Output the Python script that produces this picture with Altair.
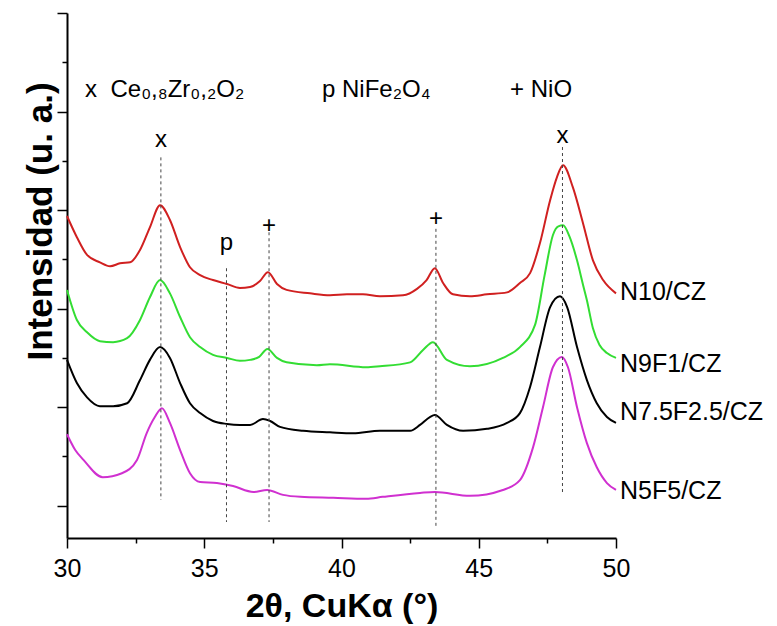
import altair as alt
import pandas as pd

# ---------------- data ----------------
angle_n10 = [30.0, 30.36, 30.73, 31.2, 31.57, 31.93, 32.3, 32.66, 33.02, 33.39, 33.75, 34.12, 34.48,
             34.85, 35.32, 35.83, 36.3, 36.67, 37.03, 37.32, 37.65, 38.0, 38.85, 39.58, 40.2, 40.78,
             41.4, 42.24, 42.75, 43.1, 43.4, 43.7, 44.06, 44.68, 45.3, 46.03, 46.5, 46.87, 47.23,
             47.6, 47.85, 48.07, 48.43, 48.8, 49.16, 49.53, 50.0]
int_n10 = [5.88, 5.45, 5.09, 4.94, 4.86, 4.92, 4.94, 5.19, 5.65, 6.10, 5.80, 5.25, 4.84,
           4.68, 4.58, 4.50, 4.42, 4.44, 4.56, 4.74, 4.50, 4.38, 4.31, 4.27, 4.29, 4.29,
           4.25, 4.27, 4.40, 4.58, 4.82, 4.52, 4.29, 4.25, 4.29, 4.33, 4.52, 4.72, 5.33,
           6.20, 6.67, 6.91, 6.46, 5.73, 4.98, 4.58, 4.31]

angle_n9f1 = [30.0, 30.36, 30.73, 31.2, 31.68, 32.19, 32.66, 33.02, 33.39, 33.75, 34.12, 34.48,
              34.85, 35.32, 35.83, 36.3, 36.67, 37.0, 37.3, 37.65, 38.0, 39.1, 39.58, 40.9, 41.4,
              42.5, 42.97, 43.33, 43.84, 44.68, 45.88, 46.5, 47.05, 47.4, 47.7, 47.9, 48.07, 48.3,
              48.58, 48.8, 48.94, 49.16, 49.4, 49.67, 50.0]
int_n9f1 = [4.38, 3.77, 3.52, 3.34, 3.32, 3.40, 3.77, 4.23, 4.58, 4.31, 3.83, 3.42,
            3.22, 3.06, 3.00, 2.94, 2.96, 3.02, 3.18, 3.00, 2.91, 2.85, 2.87, 2.81, 2.83,
            2.91, 3.16, 3.32, 2.96, 2.83, 3.00, 3.22, 3.67, 4.68, 5.49, 5.67, 5.69, 5.47,
            4.98, 4.48, 4.17, 3.60, 3.26, 3.10, 3.00]

angle_n75 = [30.0, 30.36, 30.73, 31.2, 31.68, 32.19, 32.66, 33.02, 33.39, 33.75, 34.12, 34.48,
             34.85, 35.32, 35.83, 36.3, 36.67, 37.14, 37.4, 37.76, 38.6, 39.58, 40.42, 41.4,
             42.5, 42.86, 43.22, 43.4, 43.84, 44.43, 45.3, 46.03, 46.5, 46.87, 47.23, 47.6,
             47.96, 48.22, 48.58, 48.94, 49.3, 49.67, 50.0]
int_n75 = [2.96, 2.49, 2.20, 2.02, 2.02, 2.08, 2.55, 2.96, 3.22, 3.00, 2.49, 2.08,
           1.88, 1.72, 1.66, 1.64, 1.64, 1.76, 1.72, 1.60, 1.52, 1.49, 1.47, 1.52,
           1.52, 1.64, 1.80, 1.84, 1.64, 1.52, 1.56, 1.68, 1.88, 2.41, 3.22, 4.03,
           4.25, 4.03, 3.22, 2.55, 2.08, 1.80, 1.68]

angle_n5f5 = [30.0, 30.3, 30.6, 31.3, 32.0, 32.55, 32.9, 33.2, 33.46, 33.75, 34.12, 34.48, 34.85,
              35.46, 36.05, 36.79, 37.29, 37.87, 38.5, 39.7, 40.9, 41.5, 42.86, 43.4, 44.68,
              45.88, 46.5, 46.98, 47.34, 47.7, 48.03, 48.25, 48.58, 48.94, 49.3, 49.67, 50.0]
int_n5f5 = [1.45, 1.13, 0.93, 0.58, 0.66, 0.93, 1.47, 1.80, 1.98, 1.68, 1.13, 0.66, 0.48,
            0.46, 0.40, 0.28, 0.32, 0.22, 0.18, 0.16, 0.14, 0.18, 0.26, 0.28, 0.20,
            0.32, 0.52, 1.19, 2.00, 2.81, 3.02, 2.81, 2.00, 1.27, 0.78, 0.46, 0.32]

series_names = ["N10/CZ", "N9F1/CZ", "N7.5F2.5/CZ", "N5F5/CZ"]
series_colors = ["#d02020", "#33dd33", "#000000", "#d030d0"]
series_label_y = [4.17, 2.71, 1.74, 0.14]

peak_angles = [33.42, 35.81, 37.36, 43.44, 48.05]
peak_symbols = ["x", "p", "+", "+", "x"]
peak_symbol_y = [7.28, 5.19, 5.53, 5.67, 7.37]
peak_line_top = [7.07, 4.82, 5.55, 5.62, 7.28]
peak_line_bottom = [0.12, -0.33, -0.33, -0.43, 0.26]

phase_texts = ["x\u00a0\u00a0Ce\u2080,\u2088Zr\u2080,\u2082O\u2082", "p NiFe\u2082O\u2084", "+ NiO"]
phase_x = [30.66, 39.29, 46.14]
phase_y = [8.29, 8.29, 8.29]

x_tick_values = [30, 32.5, 35, 37.5, 40, 42.5, 45, 47.5, 50]
y_tick_values = [0, 1, 2, 3, 4, 5, 6, 7, 8, 9, 10]

FONT = "Liberation Sans"

# ---------------- tables ----------------
rows = []
for name, xs, ys in zip(series_names,
                        [angle_n10, angle_n9f1, angle_n75, angle_n5f5],
                        [int_n10, int_n9f1, int_n75, int_n5f5]):
    for a, b in zip(xs, ys):
        rows.append({"series": name, "angle": a, "intensity": b})
curves = pd.DataFrame(rows)

peaks = pd.DataFrame({"angle": peak_angles, "symbol": peak_symbols, "intensity": peak_symbol_y,
                      "top": peak_line_top, "bottom": peak_line_bottom})
phases = pd.DataFrame({"text": phase_texts, "angle": phase_x, "intensity": phase_y})
labels = pd.DataFrame({"series": series_names, "angle": [50] * 4, "intensity": series_label_y})

x_scale = alt.Scale(domain=[30, 50], nice=False, zero=False)
y_scale = alt.Scale(domain=[-0.655, 10], nice=False, zero=False)

x_axis = alt.Axis(
    values=x_tick_values, title="2θ, CuKα (°)",
    labelExpr="datum.value % 5 === 0 ? datum.label : ''",
    tickSize={"condition": {"test": "datum.value % 5 === 0", "value": 10}, "value": 5},
    labelFontSize=25, labelColor="black", labelPadding=8, labelFlush=False, labelOverlap=False,
    labelFont=FONT, titleFont=FONT,
    titleFontSize=34, titleFontWeight="bold", titleColor="black",
    titleBaseline="alphabetic", titleY=78,
    domainColor="black", domainWidth=2, tickColor="black", tickWidth=1.5, grid=False)

y_axis = alt.Axis(
    values=y_tick_values, labels=False,
    tickSize={"condition": {"test": "datum.value % 2 === 0", "value": 10}, "value": 5},
    title="Intensidad (u. a.)", titleFont=FONT,
    titleFontSize=35, titleFontWeight="bold", titleColor="black",
    titleBaseline="alphabetic", titleX=-16, titleY=208,
    domainColor="black", domainWidth=2, tickColor="black", tickWidth=1.5, grid=False)

X = alt.X("angle:Q", scale=x_scale, axis=x_axis)

lines = alt.Chart(curves).mark_line(strokeWidth=2, interpolate="monotone").encode(
    x=X,
    y=alt.Y("intensity:Q", scale=y_scale, axis=y_axis),
    color=alt.Color("series:N", scale=alt.Scale(domain=series_names, range=series_colors), legend=None),
)

rules = alt.Chart(peaks).mark_rule(strokeDash=[3, 3], color="#444444", strokeWidth=1).encode(
    x=X,
    y=alt.Y("top:Q", scale=y_scale, axis=y_axis),
    y2="bottom:Q",
)

symbols = alt.Chart(peaks).mark_text(font=FONT, fontSize=24, color="black",
                                     align="center", baseline="alphabetic").encode(
    x=X,
    y=alt.Y("intensity:Q", scale=y_scale, axis=y_axis),
    text="symbol:N",
)

phase_marks = alt.Chart(phases).mark_text(font=FONT, fontSize=24, color="black",
                                          align="left", baseline="alphabetic").encode(
    x=X,
    y=alt.Y("intensity:Q", scale=y_scale, axis=y_axis),
    text="text:N",
)

series_marks = alt.Chart(labels).mark_text(font=FONT, fontSize=25, color="black",
                                           align="left", baseline="alphabetic", dx=4).encode(
    x=X,
    y=alt.Y("intensity:Q", scale=y_scale, axis=y_axis),
    text="series:N",
)

chart = alt.layer(lines, rules, symbols, phase_marks, series_marks).properties(
    width=549, height=525,
    autosize=alt.AutoSizeParams(type="none"),
    padding={"left": 59, "top": 5, "right": 152, "bottom": 86},
).configure(font=FONT).configure_view(stroke=None)

chart.save("out.html", embed_options={"renderer": "svg", "actions": False})
